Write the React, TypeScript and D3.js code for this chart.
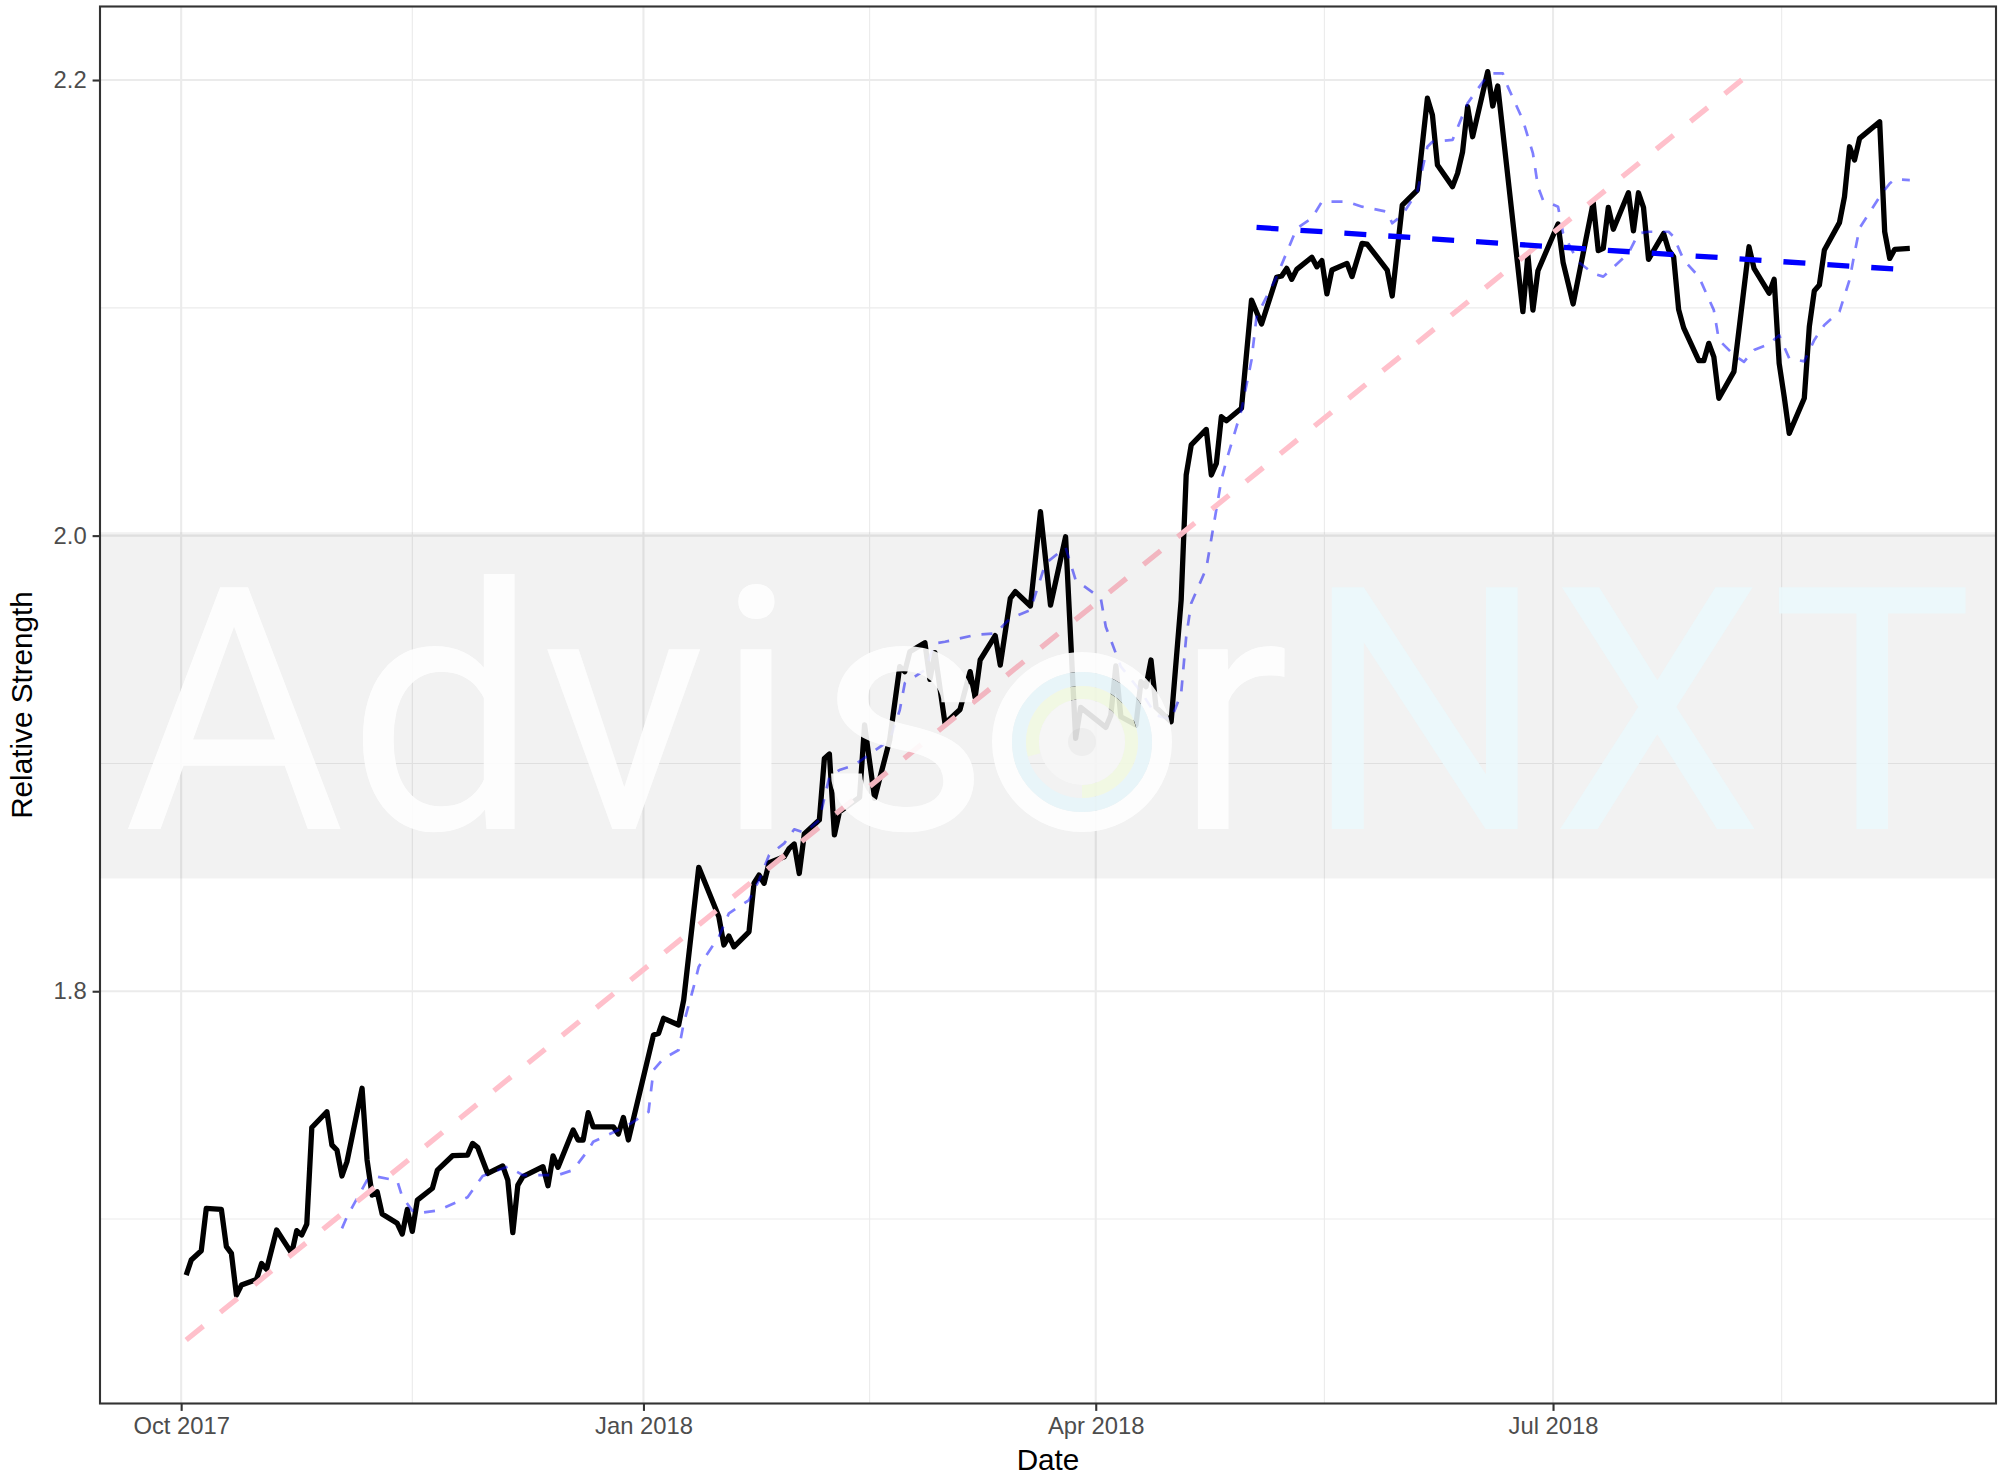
import React, { useEffect, useRef } from "react";
import * as d3 from "d3";

// relative strength, vertices of the black line (trading days)
const rsDates = [
  "2017-10-02", "2017-10-03", "2017-10-05", "2017-10-06", "2017-10-09", "2017-10-10", "2017-10-11", "2017-10-12", "2017-10-13",
  "2017-10-16", "2017-10-17", "2017-10-18", "2017-10-20", "2017-10-23", "2017-10-24", "2017-10-25", "2017-10-26", "2017-10-27",
  "2017-10-30", "2017-10-31", "2017-11-01", "2017-11-02", "2017-11-03", "2017-11-06", "2017-11-07", "2017-11-08", "2017-11-09", "2017-11-10",
  "2017-11-13", "2017-11-14", "2017-11-15", "2017-11-16", "2017-11-17", "2017-11-20", "2017-11-21", "2017-11-24",
  "2017-11-27", "2017-11-28", "2017-11-29", "2017-12-01", "2017-12-04", "2017-12-05", "2017-12-06", "2017-12-07", "2017-12-08",
  "2017-12-12", "2017-12-13", "2017-12-14", "2017-12-15", "2017-12-18", "2017-12-19", "2017-12-20", "2017-12-21", "2017-12-22",
  "2017-12-26", "2017-12-27", "2017-12-28", "2017-12-29", "2018-01-03", "2018-01-04", "2018-01-05", "2018-01-08", "2018-01-09",
  "2018-01-12", "2018-01-16", "2018-01-17", "2018-01-18", "2018-01-19", "2018-01-22", "2018-01-23", "2018-01-24", "2018-01-25", "2018-01-26",
  "2018-01-29", "2018-01-30", "2018-01-31", "2018-02-01", "2018-02-02", "2018-02-05", "2018-02-06", "2018-02-07", "2018-02-08", "2018-02-09",
  "2018-02-13", "2018-02-14", "2018-02-16", "2018-02-19", "2018-02-21", "2018-02-22", "2018-02-23", "2018-02-26", "2018-02-27", "2018-02-28",
  "2018-03-02", "2018-03-05", "2018-03-07", "2018-03-08", "2018-03-09", "2018-03-12", "2018-03-13", "2018-03-15", "2018-03-16",
  "2018-03-19", "2018-03-21", "2018-03-23", "2018-03-26", "2018-03-28", "2018-03-29", "2018-04-03", "2018-04-04", "2018-04-05", "2018-04-06",
  "2018-04-09", "2018-04-10", "2018-04-11", "2018-04-12", "2018-04-13", "2018-04-16", "2018-04-18", "2018-04-19", "2018-04-20",
  "2018-04-23", "2018-04-24", "2018-04-25", "2018-04-26", "2018-04-27", "2018-04-30", "2018-05-02", "2018-05-04",
  "2018-05-07", "2018-05-08", "2018-05-09", "2018-05-10", "2018-05-11", "2018-05-14", "2018-05-15", "2018-05-16", "2018-05-17", "2018-05-18",
  "2018-05-21", "2018-05-22", "2018-05-24", "2018-05-25", "2018-05-29", "2018-05-30", "2018-06-01", "2018-06-04", "2018-06-06", "2018-06-07", "2018-06-08",
  "2018-06-11", "2018-06-12", "2018-06-13", "2018-06-14", "2018-06-15", "2018-06-18", "2018-06-19", "2018-06-20",
  "2018-06-25", "2018-06-26", "2018-06-27", "2018-06-28", "2018-07-02", "2018-07-03", "2018-07-05",
  "2018-07-09", "2018-07-10", "2018-07-11", "2018-07-12", "2018-07-13", "2018-07-16", "2018-07-17", "2018-07-18", "2018-07-19", "2018-07-20",
  "2018-07-23", "2018-07-24", "2018-07-25", "2018-07-26", "2018-07-27", "2018-07-30", "2018-07-31", "2018-08-01", "2018-08-02", "2018-08-03",
  "2018-08-06", "2018-08-09", "2018-08-10", "2018-08-13", "2018-08-14", "2018-08-15", "2018-08-16", "2018-08-17",
  "2018-08-20", "2018-08-21", "2018-08-22", "2018-08-23", "2018-08-24", "2018-08-27", "2018-08-28", "2018-08-29", "2018-08-30", "2018-08-31",
  "2018-09-04", "2018-09-05", "2018-09-06", "2018-09-07", "2018-09-10",
];
const rsValues = [
  1.6754, 1.682, 1.6861, 1.7047, 1.7042, 1.6879, 1.6849, 1.6666, 1.671,
  1.6735, 1.6805, 1.6779, 1.6952, 1.6849, 1.6949, 1.693, 1.6978, 1.7402,
  1.7471, 1.7325, 1.7303, 1.7189, 1.7252, 1.7574, 1.7259, 1.7105, 1.712, 1.7022,
  1.6981, 1.6934, 1.7042, 1.6946, 1.7083, 1.7135, 1.7215, 1.7278,
  1.7281, 1.7332, 1.7315, 1.72, 1.7233, 1.7171, 1.694, 1.7149, 1.7186,
  1.723, 1.7146, 1.7277, 1.7227, 1.7391, 1.7347, 1.7347, 1.7467, 1.7405,
  1.7405, 1.7373, 1.7446, 1.7347, 1.7808, 1.7815, 1.7881, 1.7852, 1.7961,
  1.8544, 1.8327, 1.8203, 1.8242, 1.8195, 1.8261, 1.8474, 1.851, 1.8474, 1.8564,
  1.859, 1.8627, 1.8646, 1.8517, 1.869, 1.8752, 1.9022, 1.9041, 1.8686, 1.8788,
  1.8851, 1.9169, 1.8847, 1.9103, 1.9425, 1.9403, 1.949, 1.953, 1.9369, 1.9486,
  1.9176, 1.9237, 1.9403, 1.929, 1.9454, 1.9561, 1.9432, 1.9725, 1.9754,
  1.9691, 2.0105, 1.9695, 1.9995, 1.911, 1.9246, 1.9158, 1.9212, 1.9428, 1.9205,
  1.9169, 1.9359, 1.9337, 1.9454, 1.9246, 1.9183, 1.9717, 2.0266, 2.0398,
  2.0466, 2.0266, 2.0317, 2.0522, 2.0504, 2.0559, 2.1034, 2.0929,
  2.1134, 2.114, 2.1173, 2.1125, 2.1169, 2.1222, 2.118, 2.1207, 2.1061, 2.1166,
  2.1195, 2.1137, 2.1283, 2.128, 2.1166, 2.1052, 2.1451, 2.1517, 2.192, 2.1846, 2.1627,
  2.1532, 2.159, 2.1685, 2.1883, 2.1751, 2.2037, 2.1886, 2.1974,
  2.0983, 2.1232, 2.099, 2.1163, 2.1368, 2.12, 2.1017,
  2.1462, 2.1251, 2.1261, 2.1441, 2.1345, 2.1505, 2.1338, 2.1505, 2.1441, 2.1213,
  2.1326, 2.1254, 2.1224, 2.0992, 2.0912, 2.0768, 2.0768, 2.0844, 2.0785, 2.0603,
  2.072, 2.1268, 2.1173, 2.1064, 2.1125, 2.0756, 2.061, 2.0449,
  2.0603, 2.0917, 2.1075, 2.11, 2.1254, 2.1374, 2.1488, 2.1707, 2.1649, 2.1744,
  2.1817, 2.1334, 2.1217, 2.1257, 2.1261,
];

// moving average (thin blue dashed line)
const maDates = [
  "2017-11-02", "2017-11-03", "2017-11-07", "2017-11-09", "2017-11-13", "2017-11-14", "2017-11-16", "2017-11-17",
  "2017-11-21", "2017-11-24", "2017-11-27", "2017-11-30", "2017-12-05", "2017-12-08", "2017-12-12", "2017-12-15",
  "2017-12-18", "2017-12-21", "2017-12-22", "2017-12-27", "2017-12-29", "2018-01-02", "2018-01-03", "2018-01-05",
  "2018-01-08", "2018-01-09", "2018-01-11", "2018-01-12", "2018-01-16", "2018-01-18", "2018-01-22", "2018-01-24",
  "2018-01-26", "2018-01-29", "2018-01-31", "2018-02-02", "2018-02-05", "2018-02-07", "2018-02-09", "2018-02-12",
  "2018-02-19", "2018-02-21", "2018-02-22", "2018-02-26", "2018-02-28", "2018-03-02", "2018-03-08", "2018-03-12",
  "2018-03-15", "2018-03-19", "2018-03-22", "2018-03-26", "2018-03-28", "2018-04-02", "2018-04-03", "2018-04-06",
  "2018-04-10", "2018-04-13", "2018-04-16", "2018-04-18", "2018-04-19", "2018-04-20", "2018-04-23", "2018-04-26",
  "2018-04-27", "2018-04-30", "2018-05-02", "2018-05-03", "2018-05-07", "2018-05-11", "2018-05-14", "2018-05-16",
  "2018-05-21", "2018-05-24", "2018-05-29", "2018-05-30", "2018-06-01", "2018-06-04", "2018-06-06", "2018-06-07",
  "2018-06-11", "2018-06-14", "2018-06-18", "2018-06-19", "2018-06-21", "2018-06-22", "2018-06-25", "2018-06-27",
  "2018-06-28", "2018-06-29", "2018-07-02", "2018-07-03", "2018-07-06", "2018-07-09", "2018-07-11", "2018-07-16",
  "2018-07-18", "2018-07-20", "2018-07-24", "2018-07-25", "2018-07-27", "2018-07-30", "2018-08-02", "2018-08-03",
  "2018-08-06", "2018-08-08", "2018-08-10", "2018-08-13", "2018-08-15", "2018-08-17", "2018-08-20", "2018-08-22",
  "2018-08-24", "2018-08-27", "2018-08-29", "2018-08-30", "2018-08-31", "2018-09-04", "2018-09-06", "2018-09-07",
  "2018-09-10",
];
const maValues = [
  1.6959, 1.701, 1.7171, 1.7186, 1.7168, 1.7098, 1.7037, 1.7025,
  1.7037, 1.7066, 1.7096, 1.7189, 1.723, 1.7193, 1.7193, 1.7193,
  1.7215, 1.7303, 1.7339, 1.7391, 1.7413, 1.747, 1.7654, 1.7705,
  1.7742, 1.7859, 1.802, 1.8108, 1.8239, 1.8342, 1.84, 1.8488,
  1.8598, 1.8649, 1.8711, 1.8696, 1.8752, 1.8942, 1.8971, 1.8993,
  1.9103, 1.9234, 1.9352, 1.941, 1.9527, 1.9534, 1.9564, 1.9571,
  1.9637, 1.9673, 1.9878, 1.9948, 1.9805, 1.9725, 1.96, 1.9425,
  1.9315, 1.9212, 1.9193, 1.9308, 1.9556, 1.9703, 1.9856, 2.0244,
  2.033, 2.0551, 2.0771, 2.0961, 2.1137, 2.1349, 2.1393, 2.1466,
  2.1466, 2.1444, 2.1422, 2.1371, 2.1407, 2.151, 2.1707, 2.1729,
  2.1737, 2.1898, 2.2022, 2.2029, 2.2029, 2.1971, 2.1824, 2.1678,
  2.1532, 2.1473, 2.1444, 2.1327, 2.1202, 2.1151, 2.1137, 2.1239,
  2.1327, 2.1334, 2.1334, 2.1312, 2.121, 2.1137, 2.099, 2.0859,
  2.0793, 2.0763, 2.0815, 2.0841, 2.088, 2.0778, 2.0765, 2.0859,
  2.0925, 2.0983, 2.1122, 2.1239, 2.135, 2.1488, 2.1546, 2.1564,
  2.1561,
];

// trend lines
const longTrendDates = ["2017-10-02", "2018-08-10"];
const longTrendValues = [1.6469, 2.2044];
const recentTrendDates = ["2018-05-03", "2018-09-10"];
const recentTrendValues = [2.1353, 2.1166];

const xTitle = "Date";
const yTitle = "Relative Strength";

const parseDate = d3.timeParse("%Y-%m-%d");
const toSeries = (dates, values) =>
  dates.map((d, i) => ({ date: parseDate(d), value: values[i] }));

// ggplot style minor breaks: midpoints of the major breaks
const minorBreaks = (ticks, lo, hi) => {
  if (ticks.length < 2) return [];
  const n = ticks.length;
  const mids = [
    ticks[0] - (ticks[1] - ticks[0]) / 2,
    ...d3.pairs(ticks).map(([a, b]) => (a + b) / 2),
    ticks[n - 1] + (ticks[n - 1] - ticks[n - 2]) / 2,
  ];
  return mids.filter((m) => m >= lo && m <= hi);
};

const App = () => {
  const svgRef = useRef(null);

  useEffect(() => {
    const W = 2013;
    const H = 1477;
    const svg = d3.select(svgRef.current);
    svg.selectAll("*").remove();

    const margin = { top: 6.5, right: 17, bottom: 73.5, left: 100 };
    const innerW = W - margin.left - margin.right;
    const innerH = H - margin.top - margin.bottom;
    const axisFont = "'Liberation Sans', Arial, Helvetica, sans-serif";

    const rs = toSeries(rsDates, rsValues);
    const ma = toSeries(maDates, maValues);
    const longTrend = toSeries(longTrendDates, longTrendValues);
    const recentTrend = toSeries(recentTrendDates, recentTrendValues);
    const all = [...rs, ...ma, ...longTrend, ...recentTrend];

    // 5% expansion on both scales, like ggplot
    const [t0, t1] = d3.extent(all, (d) => d.date);
    const tPad = (+t1 - +t0) * 0.05;
    const x = d3
      .scaleTime()
      .domain([new Date(+t0 - tPad), new Date(+t1 + tPad)])
      .range([0, innerW]);
    const [v0, v1] = d3.extent(all, (d) => d.value);
    const vPad = (v1 - v0) * 0.05;
    const y = d3
      .scaleLinear()
      .domain([v0 - vPad, v1 + vPad])
      .range([innerH, 0]);

    const xMajor = x.ticks(d3.timeMonth.every(3));
    const yMajor = y.ticks(3);
    const xDom = x.domain();
    const xMinor = minorBreaks(xMajor.map(Number), +xDom[0], +xDom[1]).map(
      (ms) => new Date(ms)
    );
    const yMinor = minorBreaks(yMajor, y.domain()[0], y.domain()[1]);

    svg.append("rect").attr("width", W).attr("height", H).attr("fill", "#ffffff");

    const g = svg
      .append("g")
      .attr("transform", `translate(${margin.left},${margin.top})`);

    // grid
    const grid = g.append("g").attr("stroke", "#ebebeb");
    grid
      .selectAll(".ymin")
      .data(yMinor)
      .join("line")
      .attr("x1", 0)
      .attr("x2", innerW)
      .attr("y1", (d) => y(d))
      .attr("y2", (d) => y(d))
      .attr("stroke-width", 1.1);
    grid
      .selectAll(".xmin")
      .data(xMinor)
      .join("line")
      .attr("x1", (d) => x(d))
      .attr("x2", (d) => x(d))
      .attr("y1", 0)
      .attr("y2", innerH)
      .attr("stroke-width", 1.1);
    grid
      .selectAll(".ymaj")
      .data(yMajor)
      .join("line")
      .attr("x1", 0)
      .attr("x2", innerW)
      .attr("y1", (d) => y(d))
      .attr("y2", (d) => y(d))
      .attr("stroke-width", 2.1);
    grid
      .selectAll(".xmaj")
      .data(xMajor)
      .join("line")
      .attr("x1", (d) => x(d))
      .attr("x2", (d) => x(d))
      .attr("y1", 0)
      .attr("y2", innerH)
      .attr("stroke-width", 2.1);

    // watermark band with the AdvisorNXT logo
    const wm = svg.append("g");
    const bandTop = margin.top + y(2.0) - 3.5;
    const bandBottom = margin.top + y(1.85) + 1.2;
    wm.append("rect")
      .attr("x", margin.left)
      .attr("width", innerW)
      .attr("y", bandTop)
      .attr("height", bandBottom - bandTop)
      .attr("fill", "#000000")
      .attr("fill-opacity", 0.052);

    const mark = wm.append("g").attr("opacity", 0.9);
    const baseline = 829;
    const glyphs = [
      { t: "A", x: 234, c: "#ffffff" },
      { t: "d", x: 443, c: "#ffffff" },
      { t: "v", x: 624, c: "#ffffff" },
      { t: "i", x: 756, c: "#ffffff" },
      { t: "s", x: 903, c: "#ffffff" },
      { t: "r", x: 1232, c: "#ffffff" },
      { t: "N", x: 1425, c: "#ecf9fc" },
      { t: "X", x: 1657, c: "#ecf9fc" },
      { t: "T", x: 1872, c: "#ecf9fc" },
    ];
    mark
      .selectAll("text")
      .data(glyphs)
      .join("text")
      .attr("x", (d) => d.x)
      .attr("y", baseline)
      .attr("text-anchor", "middle")
      .attr("font-family", "Roboto, Lato, 'Open Sans', sans-serif")
      .attr("font-weight", 400)
      .attr("font-size", 340)
      .attr("fill", (d) => d.c)
      .text((d) => d.t);

    const logo = mark.append("g").attr("transform", "translate(1082,742)");
    logo.append("circle").attr("r", 80).attr("fill", "none").attr("stroke", "#ffffff").attr("stroke-width", 20);
    logo.append("circle").attr("r", 63).attr("fill", "none").attr("stroke", "#e8f6fa").attr("stroke-width", 14);
    logo
      .append("path")
      .attr(
        "d",
        d3.arc()({
          innerRadius: 43,
          outerRadius: 56,
          startAngle: (-105 * Math.PI) / 180,
          endAngle: Math.PI,
        })
      )
      .attr("fill", "#f1f9e2");
    logo.append("circle").attr("r", 43).attr("fill", "#f7f7f7");
    logo.append("circle").attr("r", 14).attr("fill", "#eeeeee");

    // series
    const line = d3
      .line()
      .x((d) => x(d.date))
      .y((d) => y(d.value));

    g.append("path")
      .datum(rs)
      .attr("fill", "none")
      .attr("stroke", "#000000")
      .attr("stroke-width", 5.3)
      .attr("stroke-linejoin", "round")
      .attr("d", line);

    g.append("path")
      .datum(ma)
      .attr("fill", "none")
      .attr("stroke", "#0000ff")
      .attr("stroke-opacity", 0.5)
      .attr("stroke-width", 2.7)
      .attr("stroke-dasharray", "11 11")
      .attr("stroke-linejoin", "round")
      .attr("d", line);

    g.append("path")
      .datum(longTrend)
      .attr("fill", "none")
      .attr("stroke", "#ffc0cb")
      .attr("stroke-width", 5.3)
      .attr("stroke-dasharray", "22 22")
      .attr("d", line);

    g.append("path")
      .datum(recentTrend)
      .attr("fill", "none")
      .attr("stroke", "#0000ff")
      .attr("stroke-width", 5.3)
      .attr("stroke-dasharray", "22 22")
      .attr("d", line);

    // panel border
    g.append("rect")
      .attr("width", innerW)
      .attr("height", innerH)
      .attr("fill", "none")
      .attr("stroke", "#333333")
      .attr("stroke-width", 2.1);

    // axes
    const styleAxis = (sel) => {
      sel.select(".domain").remove();
      sel.attr("font-family", axisFont).attr("font-size", 23.8);
      sel.selectAll(".tick line").attr("stroke", "#333333").attr("stroke-width", 2.1);
      sel.selectAll(".tick text").attr("fill", "#4d4d4d");
    };

    g.append("g")
      .attr("transform", `translate(0,${innerH})`)
      .call(
        d3
          .axisBottom(x)
          .tickValues(xMajor)
          .tickFormat(d3.timeFormat("%b %Y"))
          .tickSizeInner(7.4)
          .tickSizeOuter(0)
          .tickPadding(5.9)
      )
      .call(styleAxis);

    g.append("g")
      .call(
        d3
          .axisLeft(y)
          .tickValues(yMajor)
          .tickFormat(d3.format(".1f"))
          .tickSizeInner(7.4)
          .tickSizeOuter(0)
          .tickPadding(5.9)
      )
      .call(styleAxis);

    // titles
    svg
      .append("text")
      .attr("x", margin.left + innerW / 2)
      .attr("y", 1470)
      .attr("text-anchor", "middle")
      .attr("font-family", axisFont)
      .attr("font-size", 29.7)
      .attr("fill", "#000000")
      .text(xTitle);

    svg
      .append("text")
      .attr("transform", `translate(31.6,${margin.top + innerH / 2}) rotate(-90)`)
      .attr("text-anchor", "middle")
      .attr("font-family", axisFont)
      .attr("font-size", 29.7)
      .attr("fill", "#000000")
      .text(yTitle);
  }, []);

  return (
    <div style={{ position: "absolute", left: 0, top: 0 }}>
      <svg ref={svgRef} width={2013} height={1477} style={{ display: "block" }} />
    </div>
  );
};

export default App;
